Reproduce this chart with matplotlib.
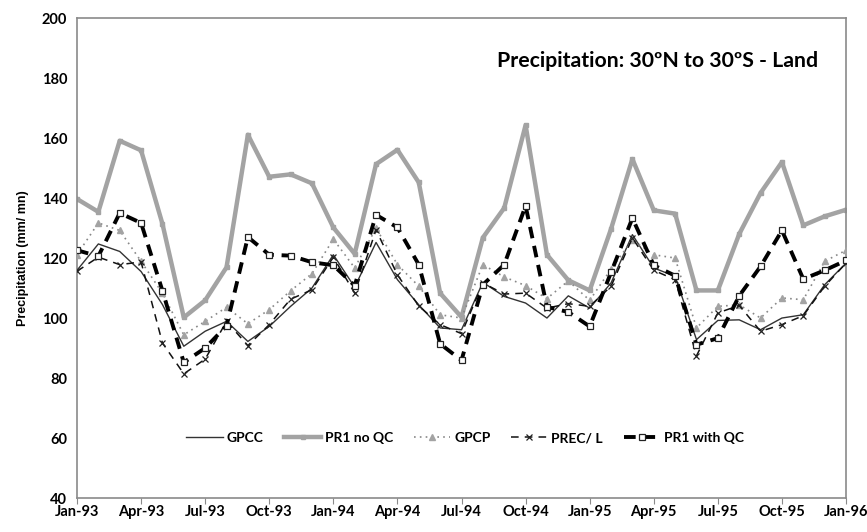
import matplotlib
matplotlib.use("Agg")
import matplotlib.pyplot as plt

months = ["Jan-93", "Apr-93", "Jul-93", "Oct-93", "Jan-94", "Apr-94", "Jul-94",
          "Oct-94", "Jan-95", "Apr-95", "Jul-95", "Oct-95", "Jan-96"]

gpcc = [115.9, 124.7, 122.2, 115.5, 104.5, 90.6, 95.6, 98.9, 92.2, 97.2, 103.9, 110.0,
        121.1, 110.3, 125.2, 112.8, 104.4, 96.7, 96.1, 111.9, 107.2, 105.0, 100.0, 107.4,
        103.3, 111.7, 127.8, 116.7, 113.9, 92.8, 99.2, 99.4, 96.1, 100.0, 101.1, 111.1, 118.3]
pr1_noqc = [139.7, 135.4, 159.1, 155.9, 131.4, 100.2, 105.9, 116.9, 161.1, 147.1, 147.9, 144.9,
            130.2, 121.4, 151.3, 156.1, 145.2, 108.3, 100.3, 126.8, 136.7, 164.3, 121.1, 112.6,
            109.2, 129.7, 153.0, 135.9, 134.8, 109.2, 109.2, 128.0, 141.7, 152.0, 130.9, 133.9, 136.1]
gpcp = [121.1, 131.7, 129.2, 118.9, 108.3, 94.4, 98.9, 103.6, 98.1, 102.8, 109.1, 114.8,
        126.3, 116.7, 130.0, 117.8, 110.6, 101.1, 100.0, 117.8, 113.7, 110.8, 106.5, 112.4,
        105.9, 116.3, 126.1, 121.1, 120.0, 96.7, 103.9, 104.4, 100.0, 106.7, 106.1, 118.9, 122.6]
precl = [115.6, 120.3, 117.8, 118.7, 91.7, 81.4, 86.3, 98.9, 90.8, 97.8, 106.3, 109.4,
         120.3, 108.3, 129.4, 114.4, 104.0, 97.8, 94.8, 111.7, 108.0, 108.3, 103.3, 104.8,
         103.9, 110.6, 126.7, 115.9, 112.8, 87.4, 101.7, 104.2, 95.6, 97.8, 100.8, 110.6, 118.3]
pr1_qc = [122.6, 120.6, 135.0, 131.7, 109.1, 85.2, 90.0, 97.4, 127.0, 121.1, 120.8, 118.6,
          117.6, 110.8, 134.4, 130.2, 117.8, 91.4, 85.9, 111.1, 117.8, 137.4, 103.7, 102.0,
          97.2, 115.2, 133.3, 117.6, 114.1, 91.1, 93.3, 107.4, 117.2, 129.2, 113.0, 115.9, 119.2]

x = list(range(len(gpcc)))
gray = "#a3a3a3"

plt.rcParams['font.family'] = ['Lato', 'DejaVu Sans']
fig = plt.figure(figsize=(8.67, 5.32), dpi=100)
ax = fig.add_axes([0.0888, 0.0639, 0.8870, 0.9021])

ax.plot(x, gpcc, color="#333333", lw=1.0, label="GPCC", zorder=3)
ax.plot(x, pr1_noqc, color=gray, lw=3.2, marker="s", ms=3.5, mfc=gray, mec=gray,
        label="PR1 no QC", zorder=2)
ax.plot(x, gpcp, color="#888888", lw=1.2, ls=(0, (1, 2.5)), marker="^", ms=5,
        mfc=gray, mec=gray, label="GPCP", zorder=3)
ax.plot(x, precl, color="#111111", lw=1.1, ls=(0, (5, 4)), marker="x", ms=5,
        mec="#222222", mew=0.9, label="PREC/ L", zorder=3)
ax.plot(x, pr1_qc, color="black", lw=2.8, ls=(0, (3, 2)), marker="s", ms=5,
        mfc="white", mec="#222222", mew=0.9, label="PR1 with QC", zorder=4)

ax.set_xlim(0, 36)
ax.set_ylim(40, 200)
ax.set_yticks(range(40, 201, 20))
ax.set_xticks(range(0, 37, 3))
ax.set_xticklabels(months)
for s in ax.spines.values():
    s.set_color("#8a8a8a")
    s.set_linewidth(1.2)
ax.tick_params(axis="y", length=0, pad=7, labelsize=10.5)
ax.tick_params(axis="x", length=4, color="#8a8a8a", pad=1, labelsize=10.5)
for lab in ax.get_xticklabels() + ax.get_yticklabels():
    lab.set_fontweight("bold")

ax.set_ylabel("Precipitation (mm/ mn)", fontsize=9, fontweight="bold",
              family=['Liberation Sans', 'DejaVu Sans'], labelpad=9)
ax.text(0.9635, 0.91, "Precipitation: 30ºN to 30ºS - Land", transform=ax.transAxes,
        ha="right", va="center", fontsize=15.3, fontweight="bold")

leg = ax.legend(loc="center", bbox_to_anchor=(0.505, 0.125), ncol=5, frameon=False,
                prop={"weight": "bold", "size": 10}, handlelength=2.6,
                columnspacing=1.5, handletextpad=0.3)

fig.savefig("out.png", dpi=100)
